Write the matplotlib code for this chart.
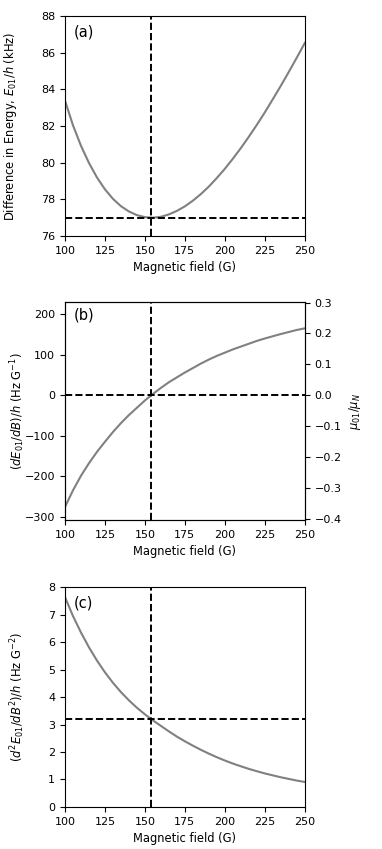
import numpy as np
import matplotlib
matplotlib.use("Agg")
import matplotlib.pyplot as plt

# magnetic field (G)
field = [100, 105, 110, 115, 120, 125, 130, 135, 140, 145, 150, 155, 160, 165, 170, 175,
         180, 185, 190, 195, 200, 205, 210, 215, 220, 225, 230, 235, 240, 245, 250]
# (a) energy difference E01/h (kHz)
energy = [83.40, 82.05, 80.93, 79.99, 79.20, 78.55, 78.03, 77.63, 77.34, 77.14, 77.03,
          77.00, 77.05, 77.18, 77.37, 77.62, 77.93, 78.29, 78.70, 79.17, 79.67, 80.22,
          80.80, 81.42, 82.07, 82.75, 83.47, 84.20, 84.96, 85.74, 86.54]
# (b) first derivative dE01/dB / h (Hz/G)
deriv1 = [-276, -235, -199, -168, -140, -115, -91, -69, -49, -31, -13, 3, 18, 32, 44, 56,
          67, 78, 88, 97, 105, 113, 120, 127, 134, 140, 145.5, 151, 156, 161, 165]
# (c) second derivative d2E01/dB2 / h (Hz/G^2)
deriv2 = [7.64, 6.95, 6.35, 5.81, 5.33, 4.90, 4.52, 4.18, 3.88, 3.61, 3.37, 3.15, 2.95,
          2.75, 2.56, 2.39, 2.23, 2.08, 1.94, 1.81, 1.69, 1.58, 1.48, 1.385, 1.30, 1.22,
          1.15, 1.08, 1.02, 0.96, 0.91]

B_magic = 154.0
E_min = 77.0
d2_magic = 3.2
muN_h = 762.26   # Hz/G

TICK = 8
LAB = 8.3
PANEL = 10.5
LINE = "#808080"

fig = plt.figure(figsize=(3.82, 8.49), dpi=100)
ax1 = fig.add_axes([0.170, 0.722, 0.628, 0.259])
ax2 = fig.add_axes([0.170, 0.3875, 0.628, 0.2568])
ax3 = fig.add_axes([0.170, 0.0495, 0.628, 0.259])

# (a)
ax1.plot(field, energy, color=LINE, lw=1.5)
ax1.axvline(B_magic, color="k", ls="--", lw=1.4)
ax1.axhline(E_min, color="k", ls="--", lw=1.4)
ax1.set_xlim(100, 250)
ax1.set_ylim(76, 88)
ax1.set_yticks([76, 78, 80, 82, 84, 86, 88])
ax1.set_ylabel("Difference in Energy, $E_{01}/h$ (kHz)", fontsize=LAB)
ax1.yaxis.set_label_coords(-0.19, 0.5)
ax1.text(0.035, 0.96, "(a)", transform=ax1.transAxes, ha="left", va="top", fontsize=PANEL)

# (b)
ax2.plot(field, deriv1, color=LINE, lw=1.5)
ax2.axvline(B_magic, color="k", ls="--", lw=1.4)
ax2.axhline(0, color="k", ls="--", lw=1.4)
ax2.set_xlim(100, 250)
ax2.set_ylim(-308, 230)
ax2.set_yticks([-300, -200, -100, 0, 100, 200])
ax2.set_ylabel("$(dE_{01}/dB)/h$ (Hz G$^{-1}$)", fontsize=LAB)
ax2.yaxis.set_label_coords(-0.16, 0.5)
ax2.text(0.035, 0.975, "(b)", transform=ax2.transAxes, ha="left", va="top", fontsize=PANEL)
ax2r = ax2.twinx()
lo, hi = ax2.get_ylim()
ax2r.set_ylim(lo / muN_h, hi / muN_h)
ax2r.set_yticks([-0.4, -0.3, -0.2, -0.1, 0.0, 0.1, 0.2, 0.3])
ax2r.set_ylabel(r"$\mu_{01}/\mu_N$", fontsize=LAB)
ax2r.tick_params(labelsize=TICK)

# (c)
ax3.plot(field, deriv2, color=LINE, lw=1.5)
ax3.axvline(B_magic, color="k", ls="--", lw=1.4)
ax3.axhline(d2_magic, color="k", ls="--", lw=1.4)
ax3.set_xlim(100, 250)
ax3.set_ylim(0, 8)
ax3.set_ylabel("$(d^2E_{01}/dB^2)/h$ (Hz G$^{-2}$)", fontsize=LAB)
ax3.yaxis.set_label_coords(-0.16, 0.5)
ax3.text(0.035, 0.96, "(c)", transform=ax3.transAxes, ha="left", va="top", fontsize=PANEL)

for ax in (ax1, ax2, ax3):
    ax.set_xticks([100, 125, 150, 175, 200, 225, 250])
    ax.set_xlabel("Magnetic field (G)", fontsize=LAB)
    ax.tick_params(labelsize=TICK)

fig.savefig("out.png", dpi=100)
